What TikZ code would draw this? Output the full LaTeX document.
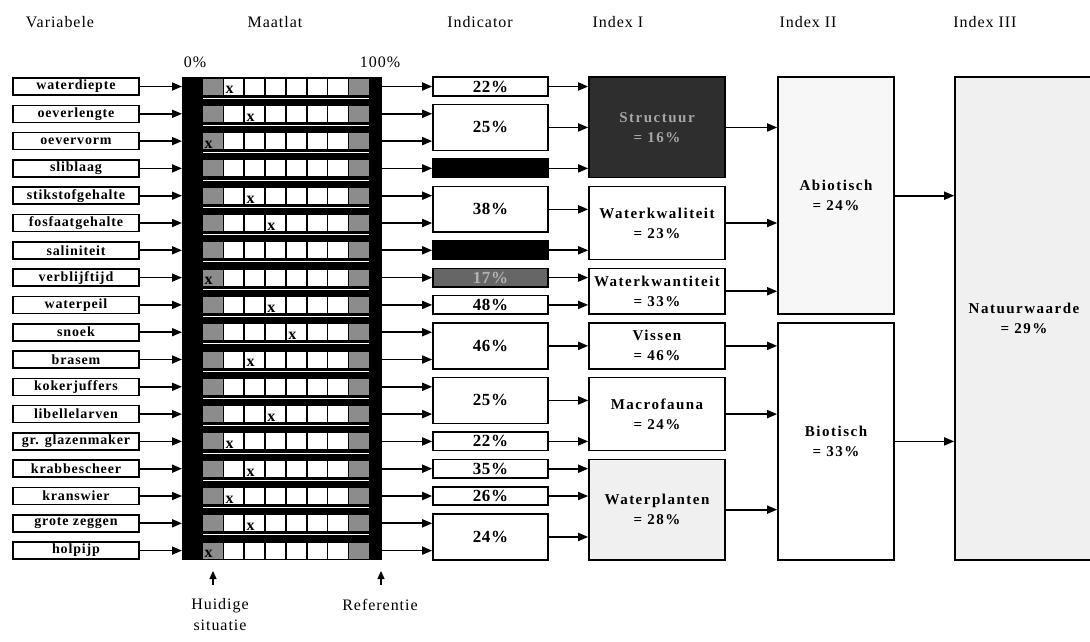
\documentclass[tikz,border=0pt]{standalone}
\usepackage{fontspec}
\setmainfont{Liberation Serif}
\newfontfamily\hdrfont[LetterSpace=6]{Liberation Serif}
\newfontfamily\lblfont[LetterSpace=6]{Liberation Serif}
\newfontfamily\idxfont[LetterSpace=10]{Liberation Serif}
\newfontfamily\pctfont[LetterSpace=4]{Liberation Serif}
\usetikzlibrary{arrows.meta,calc}
\newcommand{\rowy}[1]{(86.5+27.3*(#1-1))}

\begin{document}
\begin{tikzpicture}[x=1pt, y=-1pt,
    plainbox/.style={draw, line width=1.6pt, inner sep=0pt, align=center},
    varbox/.style={plainbox, minimum width=126, minimum height=17, font=\lblfont\bfseries\fontsize{14}{14}\selectfont},
    indbox/.style={plainbox, minimum width=115, font=\pctfont\bfseries\fontsize{17}{17}\selectfont},
    idxbox/.style={plainbox, font=\idxfont\bfseries\fontsize{15}{20}\selectfont},
    rowspan/.style 2 args={minimum height={27.3*(#2-#1)+18.5}},
    flow/.style={-{Triangle[length=10pt,width=8pt]}, line width=1.7pt},
    uparrow/.style={-{Triangle[length=8pt,width=7pt]}, line width=1.2pt},
    header/.style={font=\hdrfont\fontsize{16}{21}\selectfont, align=center},
    xmark/.style={inner sep=0pt, anchor=south west, font=\bfseries\fontsize{16}{16}\selectfont}]
    \useasboundingbox (0,0) rectangle (1090,641);

    % column headers
    \node[header] (hVar) at (60,22) {Variabele};
    \node[header] (hMaat) at (275,22) {Maatlat};
    \node[header] (hInd) at (480,22) {Indicator};
    \node[header] (hI) at (618,22) {Index I};
    \node[header] (hII) at (808,22) {Index II};
    \node[header] (hIII) at (985,22) {Index III};
    \node[header] (p0) at (195,62) {0\%};
    \node[header] (p100) at (380,62) {100\%};

    % variables
    \foreach \name [count=\i] in {waterdiepte, oeverlengte, oevervorm, sliblaag, stikstofgehalte,
        fosfaatgehalte, saliniteit, verblijftijd, waterpeil, snoek, brasem, kokerjuffers,
        libellelarven, gr. glazenmaker, krabbescheer, kranswier, grote zeggen, holpijp}
        \node[varbox] (v\i) at (76,{\rowy{\i}}) {\name};

    % maatlat
    \node[fill=black, inner sep=0pt, minimum width=200, minimum height=483, anchor=north west] (maat) at (182,77) {};
    \foreach \i in {1,...,18} {
        \foreach \k in {1,...,6}
            \fill[white] ({203+20.9*\k},{\rowy{\i}-8}) rectangle ++(19.5,16);
        \fill[black!45] (203,{\rowy{\i}-8}) rectangle ++(19.5,16);
        \fill[black!45] (349.3,{\rowy{\i}-8}) rectangle ++(19.5,16);
    }
    \foreach \i in {1,...,17}
        \draw[white, line width=0.8pt] (203,{\rowy{\i}+11.5}) -- (369,{\rowy{\i}+11.5});
    \foreach \r/\c in {1/1, 2/2, 3/0, 5/2, 6/3, 8/0, 9/3, 10/4, 11/2, 13/3, 14/1, 15/2, 16/1, 17/2, 18/0}
        \node[xmark] (m\r) at ({204.5+20.9*\c},{\rowy{\r}+7.5}) {x};
    \foreach \i in {1,...,18}
        \draw[flow] (v\i.east) -- (maat.west |- v\i.east);

    % indicators
    \foreach \a/\b/\f/\c/\t [count=\j] in {1/1/white/black/22\%, 2/3/white/black/25\%, 4/4/black/black/{},
        5/6/white/black/38\%, 7/7/black/black/{}, 8/8/black!60/black!30/17\%, 9/9/white/black/48\%,
        10/11/white/black/46\%, 12/13/white/black/25\%, 14/14/white/black/22\%, 15/15/white/black/35\%,
        16/16/white/black/26\%, 17/18/white/black/24\%}
        \node[indbox, rowspan={\a}{\b}, fill=\f, text=\c] (i\j) at (490.5,{(\rowy{\a}+\rowy{\b})/2}) {\t};
    \foreach \r/\j in {1/1, 2/2, 3/2, 4/3, 5/4, 6/4, 7/5, 8/6, 9/7, 10/8, 11/8, 12/9, 13/9,
        14/10, 15/11, 16/12, 17/13, 18/13}
        \draw[flow] (maat.east |- v\r.east) -- (i\j.west |- v\r.east);

    % index I
    \node[idxbox, minimum width=136, rowspan={1}{4}, fill=black!82, text=black!35] (s1) at (657,{(\rowy{1}+\rowy{4})/2}) {Structuur\\= 16\%};
    \node[idxbox, minimum width=136, rowspan={5}{7}] (s2) at (657,{(\rowy{5}+\rowy{7})/2}) {Waterkwaliteit\\= 23\%};
    \node[idxbox, minimum width=136, rowspan={8}{9}] (s3) at (657,{(\rowy{8}+\rowy{9})/2}) {Waterkwantiteit\\= 33\%};
    \node[idxbox, minimum width=136, rowspan={10}{11}] (s4) at (657,{(\rowy{10}+\rowy{11})/2}) {Vissen\\= 46\%};
    \node[idxbox, minimum width=136, rowspan={12}{14}] (s5) at (657,{(\rowy{12}+\rowy{14})/2}) {Macrofauna\\= 24\%};
    \node[idxbox, minimum width=136, rowspan={15}{18}, fill=black!6] (s6) at (657,{(\rowy{15}+\rowy{18})/2}) {Waterplanten\\= 28\%};
    \foreach \j/\k in {1/1, 2/1, 3/1, 4/2, 5/2, 6/3, 7/3, 8/4, 9/5, 10/5, 11/6, 12/6, 13/6}
        \draw[flow] (i\j.east) -- (s\k.west |- i\j.east);

    % index II and III
    \node[idxbox, minimum width=116, rowspan={1}{9}, fill=black!3] (abio) at (836,{(\rowy{1}+\rowy{9})/2}) {Abiotisch\\= 24\%};
    \node[idxbox, minimum width=116, rowspan={10}{18}] (bio) at (836,{(\rowy{10}+\rowy{18})/2}) {Biotisch\\= 33\%};
    \node[idxbox, minimum width=138, rowspan={1}{18}, fill=black!6] (natuur) at (1024,{(\rowy{1}+\rowy{18})/2}) {Natuurwaarde\\= 29\%};
    \foreach \k in {1,2,3}
        \draw[flow] (s\k.east) -- (abio.west |- s\k.east);
    \foreach \k in {4,5,6}
        \draw[flow] (s\k.east) -- (bio.west |- s\k.east);
    \draw[flow] (abio.east) -- (natuur.west |- abio.east);
    \draw[flow] (bio.east) -- (natuur.west |- bio.east);

    % legend below the maatlat
    \node[header] (huidig) at (220,615) {Huidige\\situatie};
    \node[header] (ref) at (380,605) {Referentie};
    \coordinate (huLow) at (213,585);
    \coordinate (huTop) at (213,571);
    \coordinate (refLow) at (381,585);
    \coordinate (refTop) at (381,571);
    \draw[uparrow] (huLow) -- (huTop);
    \draw[uparrow] (refLow) -- (refTop);
\end{tikzpicture}
\end{document}
